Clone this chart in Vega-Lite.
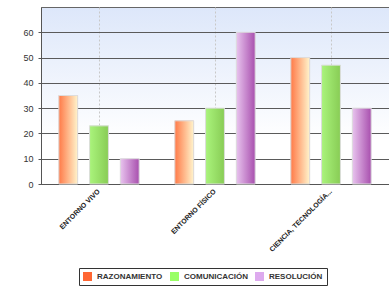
{
  "$schema": "https://vega.github.io/schema/vega-lite/v6.json",
  "autosize": "none",
  "padding": {"left": 41, "top": 7, "right": 0, "bottom": 104},
  "width": 348,
  "height": 177,
  "background": "#ffffff",
  "config": {
    "view": {
      "stroke": "#666666",
      "strokeWidth": 1,
      "fill": {"gradient": "linear", "x1": 0, "y1": 0, "x2": 0, "y2": 1,
        "stops": [{"offset": 0, "color": "#dde7fa"}, {"offset": 0.75, "color": "#ffffff"}]}
    },
    "font": "Liberation Sans"
  },
  "data": {
    "values": [
      {"cat": "ENTORNO VIVO", "serie": "RAZONAMIENTO", "valor": 35},
      {"cat": "ENTORNO VIVO", "serie": "COMUNICACIÓN", "valor": 23},
      {"cat": "ENTORNO VIVO", "serie": "RESOLUCIÓN", "valor": 10},
      {"cat": "ENTORNO FÍSICO", "serie": "RAZONAMIENTO", "valor": 25},
      {"cat": "ENTORNO FÍSICO", "serie": "COMUNICACIÓN", "valor": 30},
      {"cat": "ENTORNO FÍSICO", "serie": "RESOLUCIÓN", "valor": 60},
      {"cat": "CIENCIA, TECNOLOGÍA...", "serie": "RAZONAMIENTO", "valor": 50},
      {"cat": "CIENCIA, TECNOLOGÍA...", "serie": "COMUNICACIÓN", "valor": 47},
      {"cat": "CIENCIA, TECNOLOGÍA...", "serie": "RESOLUCIÓN", "valor": 30}
    ]
  },
  "encoding": {
    "x": {
      "field": "cat", "type": "nominal", "sort": null, "title": null,
      "scale": {"paddingInner": 0, "paddingOuter": 0},
      "axis": {
        "labelAngle": -45, "labelAlign": "right", "labelBaseline": "middle",
        "labelFontSize": 7, "labelFontWeight": "bold", "labelColor": "#222222",
        "labelPadding": 6, "ticks": false,
        "domainColor": "#555555",
        "grid": true, "gridColor": "#c8c8c8", "gridDash": [2, 2], "gridWidth": 1
      }
    },
    "xOffset": {
      "field": "serie", "type": "nominal",
      "scale": {"domain": ["RAZONAMIENTO", "COMUNICACIÓN", "RESOLUCIÓN"], "paddingInner": 0.387, "paddingOuter": 0.58}
    },
    "y": {
      "field": "valor", "type": "quantitative", "title": null,
      "scale": {"domain": [0, 70], "nice": false},
      "axis": {
        "values": [0, 10, 20, 30, 40, 50, 60],
        "labelFontSize": 9, "labelColor": "#333333", "labelPadding": 5,
        "tickSize": 3, "tickColor": "#555555", "domainColor": "#555555",
        "gridColor": "#5a5a5a", "gridWidth": 1, "gridOpacity": 1
      }
    }
  },
  "layer": [
    {
      "mark": {"type": "bar"},
      "encoding": {
        "color": {
          "field": "serie", "type": "nominal", "title": null,
          "scale": {"domain": ["RAZONAMIENTO", "COMUNICACIÓN", "RESOLUCIÓN"], "range": ["#ff6633", "#99ff66", "#ddaaee"]},
          "legend": {
            "orient": "none", "legendX": 38, "legendY": 261, "direction": "horizontal",
            "symbolType": "square", "symbolSize": 81, "symbolStrokeWidth": 0,
            "labelFontSize": 8, "labelFontWeight": "bold", "labelColor": "#333333",
            "labelOffset": 5, "columnPadding": 7,
            "padding": 4, "strokeColor": "#333333", "fillColor": "#ffffff"
          }
        }
      }
    },
    {
      "transform": [{"filter": "datum.serie === 'RAZONAMIENTO'"}],
      "mark": {"type": "bar", "stroke": "#dddddd", "strokeWidth": 1,
        "fill": {"gradient": "linear", "x1": 0, "y1": 0, "x2": 1, "y2": 0,
          "stops": [{"offset": 0, "color": "#ff7a48"}, {"offset": 1, "color": "#fff4cc"}]}}
    },
    {
      "transform": [{"filter": "datum.serie === 'COMUNICACIÓN'"}],
      "mark": {"type": "bar", "stroke": "#dddddd", "strokeWidth": 1,
        "fill": {"gradient": "linear", "x1": 0, "y1": 0, "x2": 1, "y2": 0,
          "stops": [{"offset": 0, "color": "#aaf47c"}, {"offset": 1, "color": "#88cc55"}]}}
    },
    {
      "transform": [{"filter": "datum.serie === 'RESOLUCIÓN'"}],
      "mark": {"type": "bar", "stroke": "#dddddd", "strokeWidth": 1,
        "fill": {"gradient": "linear", "x1": 0, "y1": 0, "x2": 1, "y2": 0,
          "stops": [{"offset": 0, "color": "#e8c4ee"}, {"offset": 1, "color": "#a84fae"}]}}
    }
  ]
}
